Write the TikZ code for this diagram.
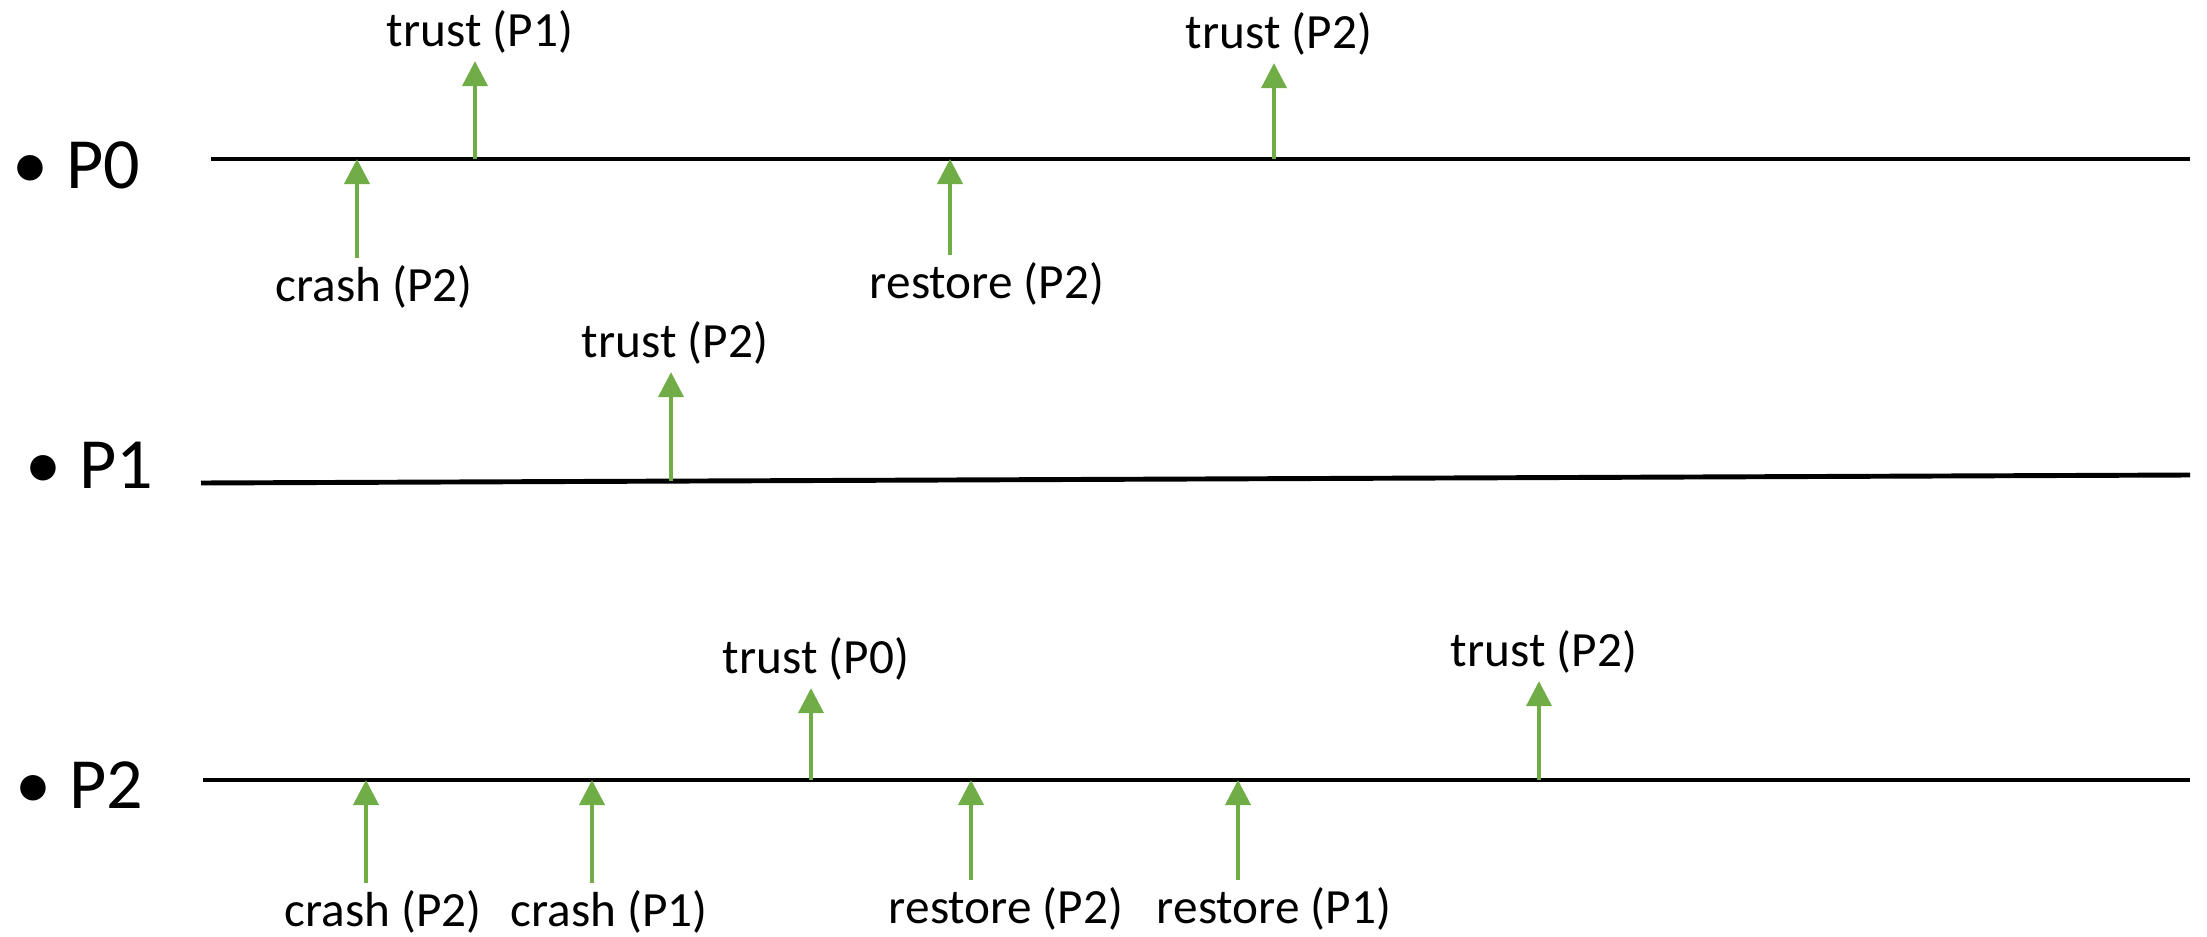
\documentclass[tikz,border=0pt]{standalone}
\usepackage{fontspec}
\setmainfont{Carlito}
\usetikzlibrary{arrows.meta}

\definecolor{evgreen}{HTML}{70AD47}

\begin{document}
\begin{tikzpicture}[x=0.01cm, y=-0.01cm,
    timeline/.style={line width=1.4pt, black},
    event/.style={line width=1.1pt, evgreen, -{Triangle[length=0.25cm, width=0.25cm]}},
    evlabel/.style={font=\fontsize{14}{16}\selectfont, inner sep=0.07cm},
    proc/.style={font=\fontsize{20.5}{24}\selectfont, anchor=west, inner sep=0pt}]
    \useasboundingbox (0, 0) rectangle (2207, 937);

    % The processes
    \node[proc] (p0) at (12, 165) {•\hspace{0.25em}P0};
    \node[proc] (p1) at (25, 465) {•\hspace{0.25em}P1};
    \node[proc] (p2) at (15, 785) {•\hspace{0.25em}P2};

    % Their time lines
    \coordinate (s0) at (211, 159);
    \coordinate (f0) at (2190, 159);
    \coordinate (s1) at (201, 483);
    \coordinate (f1) at (2190, 475);
    \coordinate (s2) at (203, 780);
    \coordinate (f2) at (2190, 780);
    \foreach \i in {0,1,2} {
        \draw[timeline] (s\i) -- (f\i);
    }

    % Events above the lines
    \foreach \n/\x/\y/\lx/\ly/\txt in {
        a/475/159/480/32/trust (P1),
        b/1274/159/1279/34/trust (P2),
        c/671/481/675/343/trust (P2),
        d/811/780/816/659/trust (P0),
        e/1539/780/1544/652/trust (P2)} {
        \coordinate (e\n) at (\x, \y);
        \node[evlabel] (t\n) at (\lx, \ly) {\txt};
        \draw[event] (e\n) -- (e\n |- t\n.south);
    }

    % Events below the lines
    \foreach \n/\x/\y/\lx/\ly/\txt in {
        f/357/159/374/287/crash (P2),
        g/950/159/987/284/restore (P2),
        h/366/780/383/912/crash (P2),
        i/592/780/609/912/crash (P1),
        j/971/780/1006/909/restore (P2),
        k/1238/780/1274/909/restore (P1)} {
        \coordinate (e\n) at (\x, \y);
        \node[evlabel] (t\n) at (\lx, \ly) {\txt};
        \draw[event] (e\n |- t\n.north) -- (e\n);
    }
\end{tikzpicture}
\end{document}
